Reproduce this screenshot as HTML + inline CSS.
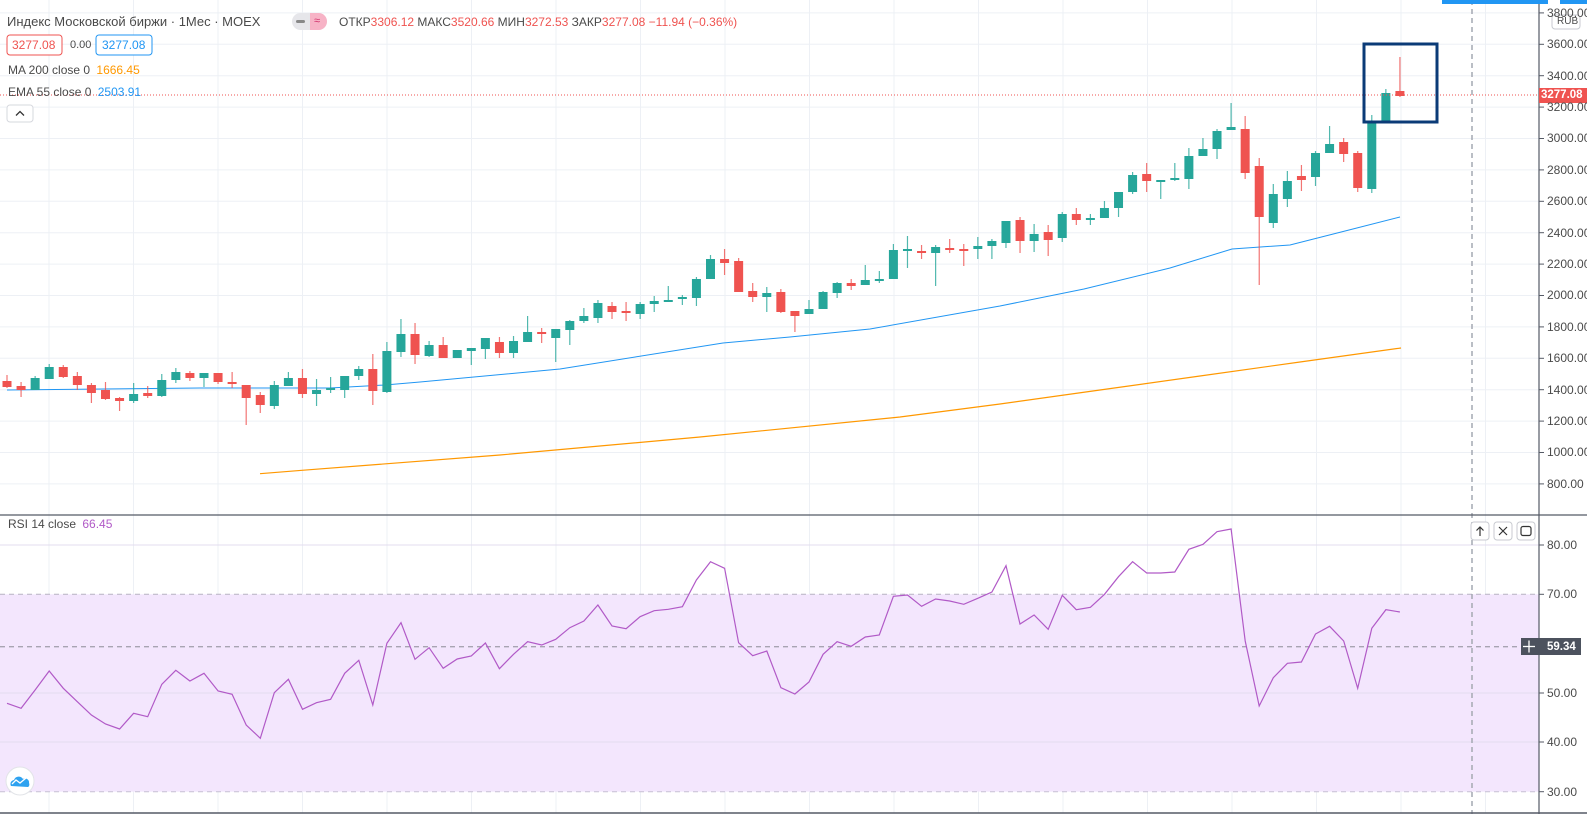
<!DOCTYPE html>
<html><head><meta charset="utf-8">
<style>
html,body{margin:0;padding:0;background:#fff;}
body{width:1587px;height:814px;overflow:hidden;position:relative;font-family:"Liberation Sans","Noto Sans CJK SC",sans-serif;}
svg{position:absolute;left:0;top:0;}
.t{position:absolute;font-size:12.5px;color:#4a4a4a;white-space:nowrap;line-height:16px;}
.ax{position:absolute;left:1547px;font-size:12px;color:#4a4a4a;line-height:14px;}
.r{color:#ef5350}
</style></head><body>
<svg id="s" width="1587" height="814" xmlns="http://www.w3.org/2000/svg">
<g id="grid" stroke="#edf0f5" stroke-width="1"></g>
<rect x="0" y="594.3" width="1539" height="197.4" fill="#f3e6fd"/>
<g id="rgrid" stroke="#e3dcef" stroke-width="1"></g>
<line x1="0" y1="594.3" x2="1539" y2="594.3" stroke="#b8b4c2" stroke-dasharray="5,4"/>
<line x1="0" y1="646.7" x2="1539" y2="646.7" stroke="#a8a4b2" stroke-dasharray="5,4" stroke-width="1.3"/>
<line x1="0" y1="791.7" x2="1539" y2="791.7" stroke="#c8c0d4" stroke-dasharray="5,4"/>
<line x1="1472" y1="0" x2="1472" y2="814" stroke="#a4a8b2" stroke-dasharray="5,4" stroke-width="1.5"/>
<polyline id="ma" fill="none" stroke="#ff9800" stroke-width="1.2" points="260,473.7 302,470.3 500,455 700,437 900,417 1000,404 1100,390 1200,376 1300,362 1401,348"/>
<polyline id="ema" fill="none" stroke="#2196f3" stroke-width="1" points="7,390 200,388 330,388 385,385 420,382 560,369 723,343 790,337 870,329 1000,306 1084,289 1170,268 1232,249 1290,245 1349,230 1400,217"/>
<g id="candles"></g>
<polyline id="rsi" fill="none" stroke="#b15ac7" stroke-width="1.2"></polyline>
<line x1="0" y1="95" x2="1539" y2="95" stroke="#ef5350" stroke-dasharray="1,2"/>
<rect x="1364" y="44" width="73" height="78" fill="none" stroke="#0b3b77" stroke-width="3"/>
<line x1="0" y1="515" x2="1587" y2="515" stroke="#555a66" stroke-width="1.2"/>
<line x1="0" y1="813" x2="1587" y2="813" stroke="#555a66" stroke-width="1.5"/>
<line x1="1539" y1="0" x2="1539" y2="814" stroke="#555a66" stroke-width="1.2"/>
<rect x="1442" y="0" width="106" height="4" fill="#2196f3"/>
<rect x="1560" y="0" width="27" height="4" fill="#2196f3"/>
<g id="ticks" stroke="#555a66"></g>
<rect x="1539" y="88" width="48" height="15" fill="#ef5350"/>
<rect x="1521" y="638" width="60" height="17" fill="#4c525e"/>
<line x1="1523" y1="646.5" x2="1535" y2="646.5" stroke="#fff" stroke-width="1.3"/>
<line x1="1529" y1="640.5" x2="1529" y2="652.5" stroke="#fff" stroke-width="1.3"/>
<rect x="1552" y="15" width="28" height="14" rx="3" fill="#fff" stroke="#c8cad0"/>
<rect x="1471" y="522" width="18" height="18" rx="3" fill="#fff" stroke="#c8cad0"/>
<rect x="1494" y="522" width="18" height="18" rx="3" fill="#fff" stroke="#c8cad0"/>
<rect x="1517" y="522" width="18" height="18" rx="3" fill="#fff" stroke="#c8cad0"/>
<path d="M1480 536 V527 M1476.5 530.5 L1480 527 L1483.5 530.5" stroke="#333" fill="none" stroke-width="1.2"/>
<path d="M1499 527 L1507 535 M1507 527 L1499 535" stroke="#333" stroke-width="1.2"/>
<rect x="1521" y="526.5" width="10" height="9" rx="2" fill="none" stroke="#333" stroke-width="1.2"/>
<rect x="7" y="105" width="26" height="17" rx="3" fill="#fff" stroke="#d6d8de"/>
<path d="M16 115.5 L20 111.5 L24 115.5" fill="none" stroke="#333" stroke-width="1.3"/>
<rect x="7" y="35" width="55" height="20" rx="3" fill="#fff" stroke="#ef5350"/>
<rect x="96" y="35" width="56" height="20" rx="3" fill="#fff" stroke="#2196f3"/>
<rect x="292" y="13" width="35" height="17" rx="8.5" fill="#e6e6ea"/>
<path d="M310 13 h8.5 a8.5 8.5 0 0 1 0 17 h-8.5z" fill="#f7b3c6"/>
<rect x="296" y="20" width="9" height="3" rx="1.5" fill="#888"/>
<circle cx="20" cy="781" r="14" fill="#fff" stroke="#e2e4e8"/>
<path d="M11 786 a4 4 0 0 1 3-6 a5 5 0 0 1 9-1 a4 4 0 0 1 6 4 a3 3 0 0 1 -1 4 z" fill="#2ea2f0"/>
<path d="M12 784 L16 780 L20 783 L26 778" fill="none" stroke="#fff" stroke-width="1.3"/>
</svg>

<div class="t" style="left:7px;top:14px;font-size:13px;">Индекс Московской биржи · 1Мес · MOEX</div>
<div class="t" style="left:314px;top:13px;color:#d0306a;font-size:11px;">≈</div>
<div class="t" style="left:339px;top:14px;font-size:12px;">ОТКР<span class="r">3306.12</span> МАКС<span class="r">3520.66</span> МИН<span class="r">3272.53</span> ЗАКР<span class="r">3277.08</span> <span class="r">−11.94 (−0.36%)</span></div>
<div class="t" style="left:12px;top:37px;font-size:12px;color:#ef5350;">3277.08</div>
<div class="t" style="left:70px;top:37px;font-size:11px;">0.00</div>
<div class="t" style="left:102px;top:37px;font-size:12px;color:#2196f3;">3277.08</div>
<div class="t" style="left:8px;top:62px;font-size:12px;">MA 200 close 0 <span style="color:#ff9800;margin-left:3px">1666.45</span></div>
<div class="t" style="left:8px;top:84px;font-size:12px;">EMA 55 close 0 <span style="color:#2196f3;margin-left:3px">2503.91</span></div>
<div class="t" style="left:8px;top:516px;font-size:12px;">RSI 14 close <span style="color:#b15ac7;margin-left:3px">66.45</span></div>

<div class="ax" style="top:6px;">3800.00</div>
<div class="ax" style="top:37px;">3600.00</div>
<div class="ax" style="top:69px;">3400.00</div>
<div class="ax" style="top:100px;">3200.00</div>
<div class="ax" style="top:131px;">3000.00</div>
<div class="ax" style="top:163px;">2800.00</div>
<div class="ax" style="top:194px;">2600.00</div>
<div class="ax" style="top:226px;">2400.00</div>
<div class="ax" style="top:257px;">2200.00</div>
<div class="ax" style="top:288px;">2000.00</div>
<div class="ax" style="top:320px;">1800.00</div>
<div class="ax" style="top:351px;">1600.00</div>
<div class="ax" style="top:383px;">1400.00</div>
<div class="ax" style="top:414px;">1200.00</div>
<div class="ax" style="top:445px;">1000.00</div>
<div class="ax" style="top:477px;">800.00</div>
<div class="ax" style="left:1557px;top:15px;font-size:10px;">RUB</div>
<div class="ax" style="top:88px;color:#fff;font-weight:bold;font-size:11.5px;left:1541px;">3277.08</div>
<div class="ax" style="top:538px;">80.00</div>
<div class="ax" style="top:587px;">70.00</div>
<div class="ax" style="top:640px;color:#fff;font-weight:bold;font-size:11.5px;">59.34</div>
<div class="ax" style="top:686px;">50.00</div>
<div class="ax" style="top:735px;">40.00</div>
<div class="ax" style="top:785px;">30.00</div>

<script>
var NS="http://www.w3.org/2000/svg";
function el(p,n,a){var e=document.createElementNS(NS,n);for(var k in a)e.setAttribute(k,a[k]);p.appendChild(e);return e;}
var g=document.getElementById('grid');
for(var k=0;k<18;k++){var x=49+84.5*k;if(x<1539)el(g,'line',{x1:x,y1:0,x2:x,y2:813});}
for(var p=3800;p>=800;p-=200){var y=44.3+(3600-p)*0.157;el(g,'line',{x1:0,y1:y,x2:1539,y2:y});}
var rg=document.getElementById('rgrid');
[545,693,742].forEach(function(y){el(rg,'line',{x1:0,y1:y,x2:1539,y2:y});});
var tk=document.getElementById('ticks');
for(var p=3800;p>=800;p-=200){var y=44.3+(3600-p)*0.157;el(tk,'line',{x1:1539,y1:y,x2:1544,y2:y});}
[545,594.3,646.7,693,742,791.7].forEach(function(y){el(tk,'line',{x1:1539,y1:y,x2:1544,y2:y});});
var C=[
['r',381,387,375,388],['r',386,390,382,397],['g',378,390,376,390],['g',367,379,364,379],['r',367,377,365,378],
['r',376,385,372,390],['r',385,393,383,403],['r',390,399,382,400],['r',398,401,397,411],['g',394,401,383,403],
['r',393,396,386,398],['g',380,396,374,397],['g',372,380,368,383],['r',373,378,371,381],['g',373,378,373,387],
['r',373,382,373,384],['r',382,384,372,388],['r',385,398,385,425],['r',395,405,392,413],['g',385,406,381,409],
['g',378,386,372,386],['r',378,394,369,398],['g',390,394,379,406],['g',388,390,377,393],['g',376,390,376,398],
['g',369,376,366,380],['r',369,391,354,405],['g',351,392,342,393],['g',334,352,319,357],['r',334,355,323,364],
['g',345,356,341,357],['r',345,358,337,358],['g',350,358,350,358],['g',348,351,348,365],['g',338,349,338,359],
['r',342,353,337,358],['g',341,353,336,358],['g',332,342,316,342],['r',332,334,328,343],['g',329,338,329,362],
['g',321,330,320,345],['g',316,321,308,323],['g',303,318,300,323],['r',306,312,302,319],['r',311,313,302,321],
['g',304,314,302,319],['g',301,304,296,312],['g',300,301,286,301],['g',297,299,295,305],['g',279,298,277,306],
['g',259,279,255,279],['r',259,263,249,275],['r',261,292,258,292],['r',291,297,283,302],['g',293,297,287,312],
['r',292,312,289,313],['r',311,316,311,332],['g',309,314,300,314],['g',292,309,291,309],['g',283,293,282,298],
['r',283,286,279,290],['g',280,285,265,285],['g',279,281,271,283],['g',250,279,244,279],['g',249,251,236,268],
['r',251,253,245,259],['g',247,253,245,286],['r',248,249,239,253],['r',249,250,244,266],['g',246,249,237,259],
['g',241,246,239,259],['g',221,243,221,248],['r',220,241,217,253],['g',234,241,224,252],['r',232,240,225,256],
['g',214,238,212,242],['r',214,220,208,225],['g',218,220,214,225],['g',208,218,201,218],['g',192,208,192,217],
['g',175,192,172,194],['r',174,181,163,192],['g',180,182,180,199],['g',178,180,163,181],['g',156,179,148,189],
['g',149,156,138,156],['g',131,149,129,159],['g',127,130,103,130],['r',129,173,116,179],['r',166,217,158,285],
['g',194,223,184,228],['g',181,199,171,207],['r',176,180,165,191],['g',153,177,151,186],['g',144,153,126,153],
['r',142,154,138,162],['r',153,188,151,192],['g',123,189,115,193],['g',93,121,89,121],['r',91,96,57,97]];
var cg=document.getElementById('candles');
C.forEach(function(c,i){var x=7+14.07*i;var col=c[0]=='g'?'#26a69a':'#ef5350';
el(cg,'line',{x1:x,y1:c[3],x2:x,y2:c[4],stroke:col,'stroke-width':1.2,'stroke-opacity':0.8});
var h=Math.max(c[2]-c[1],2);el(cg,'rect',{x:x-4.5,y:c[1],width:9,height:h,fill:col});});
var r1=[490,505,450,393,445,485,525,552,567,520,530,433,391,423,400,453,463,555,595,458,418,508,488,478,400,361,495,310,248,358,323,385,357,348,309,386,343,305,315,298,263,243,195,258,266,230,212,208,200,120];
var r2=[155,175,398,437,423,533,552,516,433,395,409,381,375,259,255,289,267,273,283,265,246,167,342,315,358,256,299,292,253,200,155,189,189,186,118,103,65,57,393,588,503,460,456,372,349,393,535,355,299,306];
var pts=[];
r1.forEach(function(v,i){pts.push((7+14.07*i).toFixed(1)+','+(540+v/3).toFixed(1));});
r2.forEach(function(v,i){pts.push((7+14.07*(i+50)).toFixed(1)+','+(510+v/3).toFixed(1));});
document.getElementById('rsi').setAttribute('points',pts.join(' '));
</script>
</body></html>
